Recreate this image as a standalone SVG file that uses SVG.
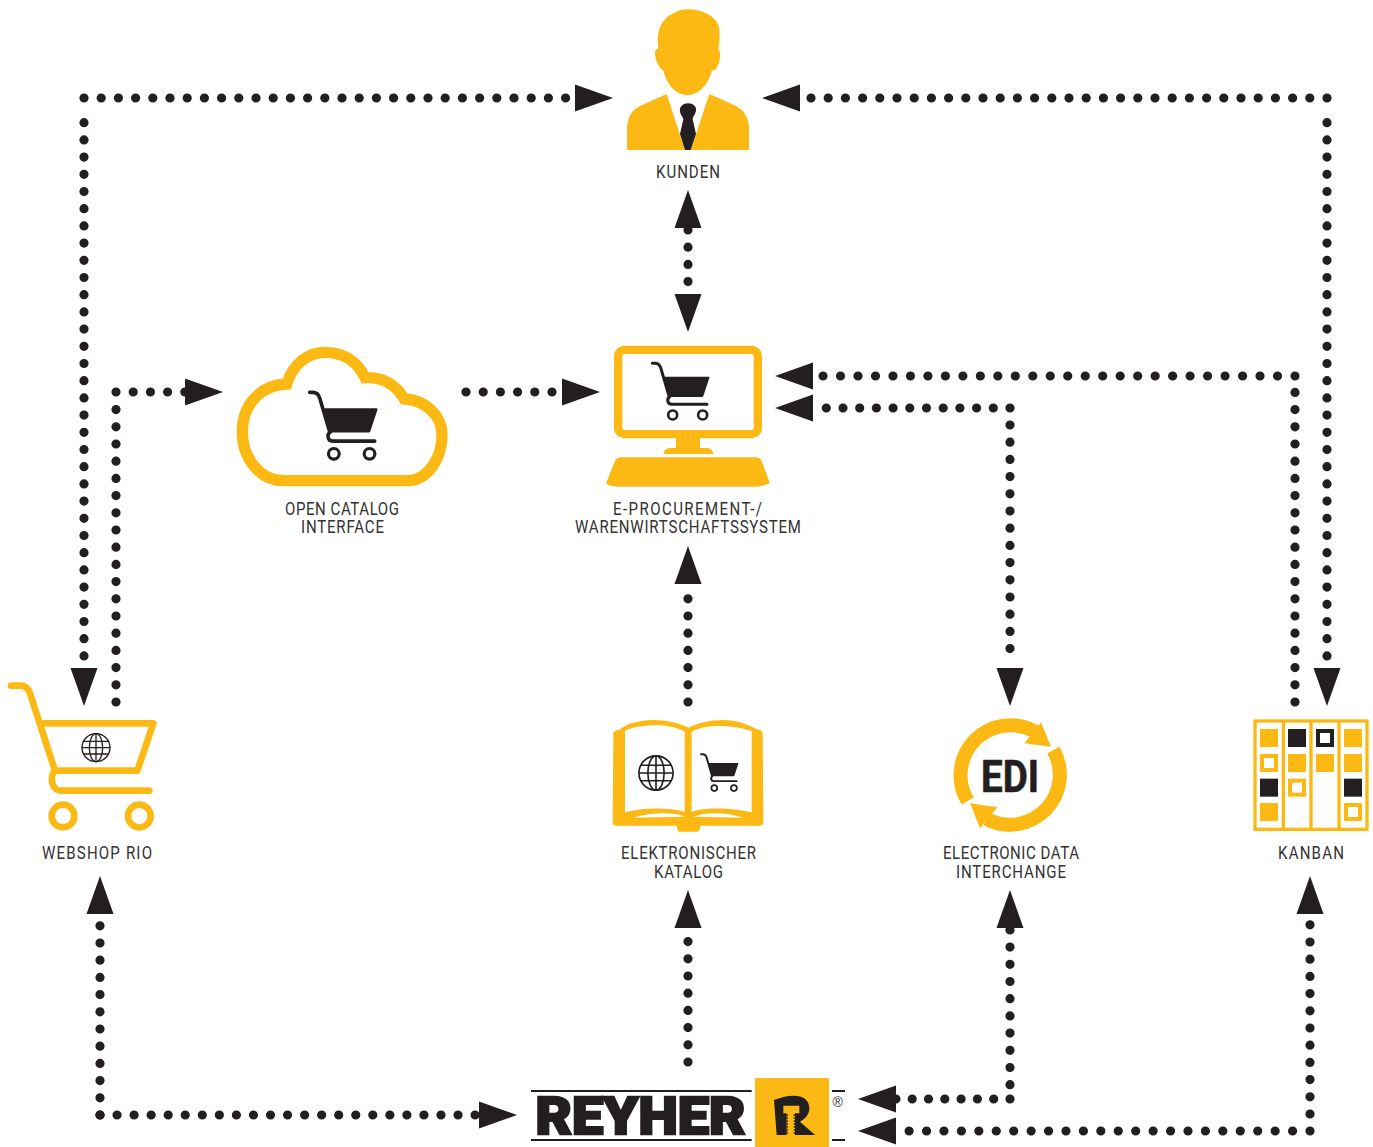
<svg xmlns="http://www.w3.org/2000/svg" xmlns:xlink="http://www.w3.org/1999/xlink" width="1373" height="1147" viewBox="0 0 1373 1147">
<style>
.o{fill:#fdb913}
.k{fill:#231f20}
.w{fill:#fff}
.os{fill:none;stroke:#fdb913}
.ks{fill:none;stroke:#231f20}
.dot{fill:none;stroke:#231f20;stroke-width:9.2;stroke-linecap:round;stroke-linejoin:round;stroke-dasharray:0 17.2}
.t{font-family:Roboto,"Liberation Sans",sans-serif;font-size:17.5px;fill:#333132;text-anchor:start}
</style>
<defs>
<g id="cart">
<path d="M187 85H195C205 85 209 90 212 98L238 186" fill="none" stroke="#231f20" stroke-width="9" stroke-linecap="round"/>
<path d="M218 125H356Q359 125 358 129L340 183Q339 186 336 186H236Z" fill="#231f20"/>
<path d="M238 186C230 192 232 208 245 208H351" fill="none" stroke="#231f20" stroke-width="9" stroke-linecap="round"/>
<circle cx="248" cy="240" r="13.500" fill="none" stroke="#231f20" stroke-width="8"/>
<circle cx="338" cy="240" r="13.500" fill="none" stroke="#231f20" stroke-width="8"/>
</g>
<g id="globe" fill="none" stroke="#231f20" stroke-width="4">
<circle r="42"/>
<ellipse rx="20" ry="42"/>
<path d="M0-42V42M-38-19H38M-42 0H42M-38 19H38"/>
</g>
<path id="ar" d="M0 0L-38-13.500V13.500Z" fill="#231f20"/>
</defs>

<g id="connectors">
<path class="dot" d="M84 98H570"/>
<path class="dot" d="M84 122.700V664"/>
<path class="dot" d="M1327 98H810"/>
<path class="dot" d="M1327 122.700V664"/>
<path class="dot" d="M688 230V292"/>
<path class="dot" d="M116 702V407"/>
<path class="dot" d="M116 392H186"/>
<path class="dot" d="M466 392H560"/>
<path class="dot" style="stroke-dasharray:0 17.48" d="M1295 376H822"/>
<path class="dot" d="M1295 702V390"/>
<path class="dot" style="stroke-dasharray:0 16.7" d="M1010 408H812"/>
<path class="dot" d="M1010 425V664"/>
<path class="dot" d="M688 702V590"/>
<path class="dot" d="M688 1062V930"/>
<path class="dot" d="M100 1115V918"/>
<path class="dot" style="stroke-dasharray:0 17.05" d="M100 1115H477"/>
<path class="dot" d="M1010 1084.700V925"/>
<path class="dot" style="stroke-dasharray:0 16.3" d="M1010 1099H895"/>
<path class="dot" d="M1310 1114V915"/>
<path class="dot" style="stroke-dasharray:0 17.43" d="M1310 1131H905"/>
<use xlink:href="#ar" transform="translate(613 98)"/>
<use xlink:href="#ar" transform="translate(762 98) rotate(180)"/>
<use xlink:href="#ar" transform="translate(84 706) rotate(90)"/>
<use xlink:href="#ar" transform="translate(1327 706) rotate(90)"/>
<use xlink:href="#ar" transform="translate(688 190) rotate(-90)"/>
<use xlink:href="#ar" transform="translate(688 332) rotate(90)"/>
<use xlink:href="#ar" transform="translate(223 392)"/>
<use xlink:href="#ar" transform="translate(600 392)"/>
<use xlink:href="#ar" transform="translate(775 376) rotate(180)"/>
<use xlink:href="#ar" transform="translate(775 408) rotate(180)"/>
<use xlink:href="#ar" transform="translate(1010 706) rotate(90)"/>
<use xlink:href="#ar" transform="translate(688 546) rotate(-90)"/>
<use xlink:href="#ar" transform="translate(688 890) rotate(-90)"/>
<use xlink:href="#ar" transform="translate(100 876) rotate(-90)"/>
<use xlink:href="#ar" transform="translate(517 1115)"/>
<use xlink:href="#ar" transform="translate(1010 890) rotate(-90)"/>
<use xlink:href="#ar" transform="translate(858 1099) rotate(180)"/>
<use xlink:href="#ar" transform="translate(1310 876) rotate(-90)"/>
<use xlink:href="#ar" transform="translate(858 1131) rotate(180)"/>
</g>

<g id="kunden">
<g transform="translate(600 0) scale(.33333)">
<path class="o" d="M263 28C310 28 345 50 355 75C362 100 358 130 355 150C365 155 362 190 345 210L335 212C325 255 295 285 263 285C225 285 200 250 190 212C172 200 162 170 166 150L175 145C170 110 175 80 195 58C212 40 240 28 263 28Z"/>
<path class="o" d="M200 282L255 450H81V390C82 350 95 330 120 318Z"/>
<path class="o" d="M328 282L408 318C435 332 447 355 447 390V450H272Z"/>
<path class="k" d="M264 310C280 310 290 320 288 332C285 345 278 350 278 358L288 402L272 450H255L240 402L250 358C250 350 240 345 240 332C238 320 250 310 264 310Z"/>
</g>
<text class="t" transform="translate(656 178) scale(.86 1)" textLength="74.400" lengthAdjust="spacing">KUNDEN</text>
</g>

<g id="eprocurement">
<g transform="translate(590 335) scale(.33333)">
<rect class="os" x="84.500" y="44.500" width="419" height="253" rx="18" stroke-width="25"/>
<rect class="o" x="258" y="305" width="72" height="40"/>
<path class="o" d="M220 357C222 345 230 339 240 339H350C360 339 368 345 370 357Z"/>
<path class="o" d="M48 445L75 378C78 370 85 367 95 367H495C505 367 512 370 515 378L540 445C520 452 510 455 500 455H85C70 455 55 452 48 445Z"/>
<use xlink:href="#cart"/>
</g>
<text class="t" transform="translate(613 515) scale(.86 1)" textLength="173.300" lengthAdjust="spacing">E-PROCUREMENT-/</text>
<text class="t" transform="translate(575 533) scale(.86 1)" textLength="262.800" lengthAdjust="spacing">WARENWIRTSCHAFTSSYSTEM</text>
</g>

<g id="cloud">
<g transform="translate(225 335) scale(.33333)">
<path class="os" stroke-width="34" d="M175 437H555C610 430 651 370 651 300C651 240 600 195 538 192C510 145 470 125 420 128C395 75 350 52 300 52C250 52 205 85 185 147C110 150 52 205 52 290C52 370 105 437 175 437Z"/>
<use xlink:href="#cart" transform="translate(31.400 70.900) scale(1.190)"/>
</g>
<text class="t" transform="translate(285 515) scale(.86 1)" textLength="132.600" lengthAdjust="spacing">OPEN CATALOG</text>
<text class="t" transform="translate(301 533) scale(.86 1)" textLength="96.500" lengthAdjust="spacing">INTERFACE</text>
</g>

<g id="webshop">
<g transform="translate(0 670) scale(.33333)">
<path class="os" stroke-width="20" stroke-linecap="round" stroke-linejoin="round" d="M33 47H60C75 47 85 55 90 70L165 302H412L460 160H120"/>
<path class="os" stroke-width="20" stroke-linecap="round" d="M165 302C150 315 150 362 185 362H448"/>
<circle class="os" cx="189" cy="438" r="34" stroke-width="20"/>
<circle class="os" cx="418" cy="438" r="34" stroke-width="20"/>
<use xlink:href="#globe" transform="translate(288 233)"/>
</g>
<text class="t" transform="translate(42 859) scale(.86 1)" textLength="127.900" lengthAdjust="spacing">WEBSHOP RIO</text>
</g>

<g id="katalog">
<g transform="translate(600 705) scale(.33333)">
<path class="o" d="M40 85C40 78 48 75 60 74C70 62 110 45 160 45C200 45 240 55 265 68C290 55 330 45 370 45C410 45 450 60 468 72C480 74 488 78 488 85L490 350C490 358 485 362 478 362H302C300 375 295 380 290 380H240C235 380 232 375 230 362H50C42 362 38 358 38 350Z"/>
<path class="w" d="M75 77C110 60 200 50 254 80V320C200 305 120 310 75 322Z"/>
<path class="w" d="M275 80C320 55 400 60 455 78V322C400 310 320 305 275 320Z"/>
<path class="w" d="M100 338C150 322 220 320 254 335Z"/>
<path class="w" d="M280 335C320 320 380 322 430 338Z"/>
<use xlink:href="#globe" transform="translate(168 204) scale(1.220)"/>
<use xlink:href="#cart" transform="translate(181 92.500) scale(.653)"/>
</g>
<text class="t" transform="translate(621 859) scale(.86 1)" textLength="157" lengthAdjust="spacing">ELEKTRONISCHER</text>
<text class="t" transform="translate(654 878) scale(.86 1)" textLength="80.200" lengthAdjust="spacing">KATALOG</text>
</g>

<g id="edi">
<g transform="translate(935 705) scale(.33333)">
<path class="os" stroke-width="42" d="M98 288A150 150 0 0 1 300 80"/>
<path class="o" d="M318 52L348 125L268 115Z"/>
<path class="os" stroke-width="42" d="M355 135A150 150 0 0 1 155 342"/>
<path class="o" d="M105 295L187 307L135 370Z"/>
</g>
<text x="981" y="791.500" font-family="Roboto,'Liberation Sans',sans-serif" font-weight="700" font-size="45" fill="#231f20" stroke="#231f20" stroke-width=".7" textLength="58" lengthAdjust="spacingAndGlyphs">EDI</text>
<text class="t" transform="translate(943 859) scale(.86 1)" textLength="158.100" lengthAdjust="spacing">ELECTRONIC DATA</text>
<text class="t" transform="translate(956 878) scale(.86 1)" textLength="127.900" lengthAdjust="spacing">INTERCHANGE</text>
</g>

<g id="kanban">
<g transform="translate(1240 705) scale(.33333)">
<rect class="os" x="45" y="48" width="336" height="325" stroke-width="10"/>
<path class="os" stroke-width="10" d="M130 48V373M213 48V373M297 48V373"/>
<rect class="o" x="60" y="72" width="54" height="54"/>
<rect class="os" x="66" y="153" width="42" height="42" stroke-width="12"/>
<rect class="k" x="60" y="221" width="54" height="54"/>
<rect class="o" x="60" y="294" width="54" height="54"/>
<rect class="k" x="144" y="72" width="54" height="54"/>
<rect class="o" x="144" y="147" width="54" height="54"/>
<rect class="os" x="150" y="227" width="42" height="42" stroke-width="12"/>
<rect class="ks" x="234" y="78" width="42" height="42" stroke-width="12"/>
<rect class="o" x="228" y="147" width="54" height="54"/>
<rect class="o" x="312" y="72" width="54" height="54"/>
<rect class="o" x="312" y="147" width="54" height="54"/>
<rect class="k" x="312" y="221" width="54" height="54"/>
<rect class="os" x="318" y="300" width="42" height="42" stroke-width="12"/>
</g>
<text class="t" transform="translate(1278 859) scale(.86 1)" textLength="76.700" lengthAdjust="spacing">KANBAN</text>
</g>

<g id="reyher">
<g transform="translate(520 1070) scale(.33333)">
<rect class="k" x="33" y="60" width="662" height="6"/>
<rect class="k" x="33" y="207" width="662" height="6"/>
<rect class="k" x="936" y="60" width="39" height="6"/>
<rect class="k" x="936" y="207" width="39" height="6"/>
<rect class="o" x="705" y="24" width="222" height="207"/>
</g>
<g transform="translate(750 1075) scale(.33333)">
<path class="k" d="M72 75C90 68 110 62 130 62C160 62 178 75 178 100C178 115 170 130 150 140L195 180H135V115H148V92H100V115H110V180H80Z"/>
<path fill="none" stroke="#231f20" stroke-width="4" stroke-dasharray="4 5" d="M112 118V180M133 118V180"/>
</g>
<text x="535.500" y="1134" font-family="Roboto,'DejaVu Sans',sans-serif" font-weight="900" font-size="52" fill="#231f20" stroke="#231f20" stroke-width="2.400" textLength="210" lengthAdjust="spacingAndGlyphs">REYHER</text>
<text x="832.500" y="1107" font-family="'Liberation Sans',sans-serif" font-size="14" fill="#333132">®</text>
</g>
</svg>
